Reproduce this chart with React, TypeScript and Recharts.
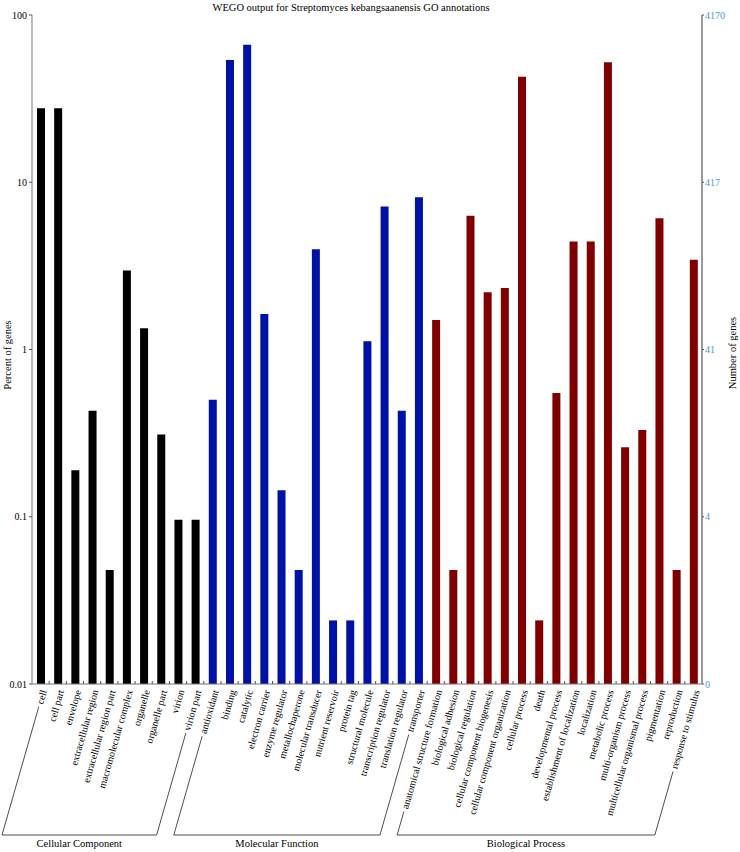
import { BarChart, Bar, XAxis, YAxis, Cell } from 'recharts'

const TITLE = 'WEGO output for Streptomyces kebangsaanensis GO annotations'
const TOTAL_GENES = 4170

const cellularTerms = [
  'cell', 'cell part', 'envelope', 'extracellular region', 'extracellular region part',
  'macromolecular complex', 'organelle', 'organelle part', 'virion', 'virion part',
]
const cellularPct = [27.7, 27.7, 0.19, 0.43, 0.048, 2.97, 1.34, 0.31, 0.096, 0.096]

const molecularTerms = [
  'antioxidant', 'binding', 'catalytic', 'electron carrier', 'enzyme regulator',
  'metallochaperone', 'molecular transducer', 'nutrient reservoir', 'protein tag',
  'structural molecule', 'transcription regulator', 'translation regulator', 'transporter',
]
const molecularPct = [0.5, 53.9, 66.5, 1.63, 0.144, 0.048, 3.98, 0.024, 0.024, 1.12, 7.16, 0.43, 8.13]

const biologicalTerms = [
  'anatomical structure formation', 'biological adhesion', 'biological regulation',
  'cellular component biogenesis', 'cellular component organization', 'cellular process',
  'death', 'developmental process', 'establishment of localization', 'localization',
  'metabolic process', 'multi-organism process', 'multicellular organismal process',
  'pigmentation', 'reproduction', 'response to stimulus',
]
const biologicalPct = [1.5, 0.048, 6.3, 2.2, 2.33, 42.8, 0.024, 0.55, 4.42, 4.42, 52.2, 0.26, 0.33, 6.09, 0.048, 3.44]

const groupNames = ['Cellular Component', 'Molecular Function', 'Biological Process']
const groupColors = ['#000000', '#0011a6', '#800000']
const percentTicks = [0.01, 0.1, 1, 10, 100]

const groupTerms = [cellularTerms, molecularTerms, biologicalTerms]
const groupPct = [cellularPct, molecularPct, biologicalPct]

const rows = groupTerms.flatMap((terms, g) =>
  terms.map((term, i) => ({ term, pct: groupPct[g][i], group: g })),
)
const groups = groupTerms.map((terms, g) => ({
  name: groupNames[g],
  start: groupTerms.slice(0, g).reduce((s, t) => s + t.length, 0),
  count: terms.length,
}))
const boundaries = rows.map((_, i) => i).slice(1)

const SERIF = '"Liberation Serif", "Times New Roman", serif'
const LABEL_SIZE = 10
const TICK_MARGIN = 4
const ANGLE = 74
const COS = Math.cos((ANGLE * Math.PI) / 180)
const SIN = Math.sin((ANGLE * Math.PI) / 180)
const BRACKET_Y = 835

let ctx: CanvasRenderingContext2D | null = null
function textWidth(s: string) {
  if (!ctx && typeof document !== 'undefined') ctx = document.createElement('canvas').getContext('2d')
  if (!ctx) return s.length * LABEL_SIZE * 0.45
  ctx.font = `${LABEL_SIZE}px "Liberation Serif"`
  return ctx.measureText(s).width
}

function CategoryTick(props: any) {
  const { x, y, payload } = props
  const idx = rows.findIndex((r) => r.term === payload.value)
  if (idx < 0) return null
  const row = rows[idx]
  const half = payload.offset || 8.6
  const band = half * 2
  const axisY = y - TICK_MARGIN
  const ax = x + 3
  const ay = axisY + 6
  const g = groups[row.group]
  const isFirst = idx === g.start
  const isLast = idx === g.start + g.count - 1
  const len = textWidth(row.term) + 3
  const sx = ax - COS * len
  const sy = ay + SIN * len
  const ex = ax - ((BRACKET_Y - ay) * COS) / SIN
  const lastEx = ex + (g.count - 1) * band

  return (
    <g>
      {idx < rows.length - 1 && (
        <line x1={x + half} y1={axisY} x2={x + half} y2={axisY - 3} stroke="#555" strokeWidth={1} />
      )}
      <text
        transform={`translate(${ax},${ay}) rotate(-${ANGLE})`}
        textAnchor="end"
        dy="0.35em"
        fontSize={LABEL_SIZE}
        fontFamily={SERIF}
        fill="#000"
      >
        {row.term}
      </text>
      {(isFirst || isLast) && (
        <line x1={sx} y1={sy} x2={ex} y2={BRACKET_Y} stroke="#222" strokeWidth={0.8} />
      )}
      {isFirst && (
        <>
          <line x1={ex} y1={BRACKET_Y} x2={lastEx} y2={BRACKET_Y} stroke="#222" strokeWidth={0.8} />
          <text
            x={(ex + lastEx) / 2}
            y={BRACKET_Y + 12}
            textAnchor="middle"
            fontSize={10.5}
            fontFamily={SERIF}
            fill="#000"
          >
            {g.name}
          </text>
        </>
      )}
    </g>
  )
}

export default function App() {
  return (
    <div style={{ position: 'absolute', left: 0, top: 0, width: 740, height: 852, background: '#fff' }}>
      <BarChart
        width={740}
        height={852}
        data={rows}
        margin={{ top: 15, right: 0, bottom: 0, left: 0 }}
        barCategoryGap={0}
      >
        <XAxis
          xAxisId="topGrid"
          orientation="top"
          type="number"
          domain={[0, rows.length]}
          ticks={boundaries}
          allowDataOverflow
          height={0}
          mirror
          tickSize={3}
          tickFormatter={() => ''}
          axisLine={{ stroke: '#777' }}
          tickLine={{ stroke: '#555' }}
        />
        <XAxis
          xAxisId="cat"
          dataKey="term"
          height={168}
          interval={0}
          tickSize={0}
          tickMargin={TICK_MARGIN}
          tickLine={false}
          axisLine={{ stroke: '#777' }}
          tick={(p: any) => <CategoryTick {...p} />}
        />
        <YAxis
          yAxisId="left"
          scale="log"
          domain={[0.01, 100]}
          ticks={percentTicks}
          allowDataOverflow
          width={32}
          tickSize={3}
          tickMargin={2}
          axisLine={{ stroke: '#777' }}
          tickLine={{ stroke: '#555' }}
          tick={{ fontSize: 10, fontFamily: SERIF, fill: '#000' }}
        />
        <YAxis
          yAxisId="right"
          orientation="right"
          scale="log"
          domain={[0.01, 100]}
          ticks={percentTicks}
          allowDataOverflow
          width={38}
          tickSize={2}
          tickMargin={1}
          tickFormatter={(v: number) => String(Math.floor((v * TOTAL_GENES) / 100 + 1e-9))}
          axisLine={{ stroke: '#999', strokeWidth: 2 }}
          tickLine={{ stroke: '#555' }}
          tick={{ fontSize: 10, fontFamily: SERIF, fill: '#4a9be0' }}
        />
        <Bar dataKey="pct" xAxisId="cat" yAxisId="left" barSize={8} isAnimationActive={false}>
          {rows.map((r, i) => (
            <Cell key={i} fill={groupColors[r.group]} />
          ))}
        </Bar>
      </BarChart>
      <svg
        width={740}
        height={852}
        style={{ position: 'absolute', left: 0, top: 0, pointerEvents: 'none' }}
      >
        <text x={351} y={11} textAnchor="middle" fontSize={10.5} fontFamily={SERIF} fill="#000">
          {TITLE}
        </text>
        <text
          transform="translate(11,355) rotate(-90)"
          textAnchor="middle"
          fontSize={10.5}
          fontFamily={SERIF}
          fill="#000"
        >
          Percent of genes
        </text>
        <text
          transform="translate(736,353) rotate(-90)"
          textAnchor="middle"
          fontSize={10.5}
          fontFamily={SERIF}
          fill="#000"
        >
          Number of genes
        </text>
      </svg>
    </div>
  )
}
